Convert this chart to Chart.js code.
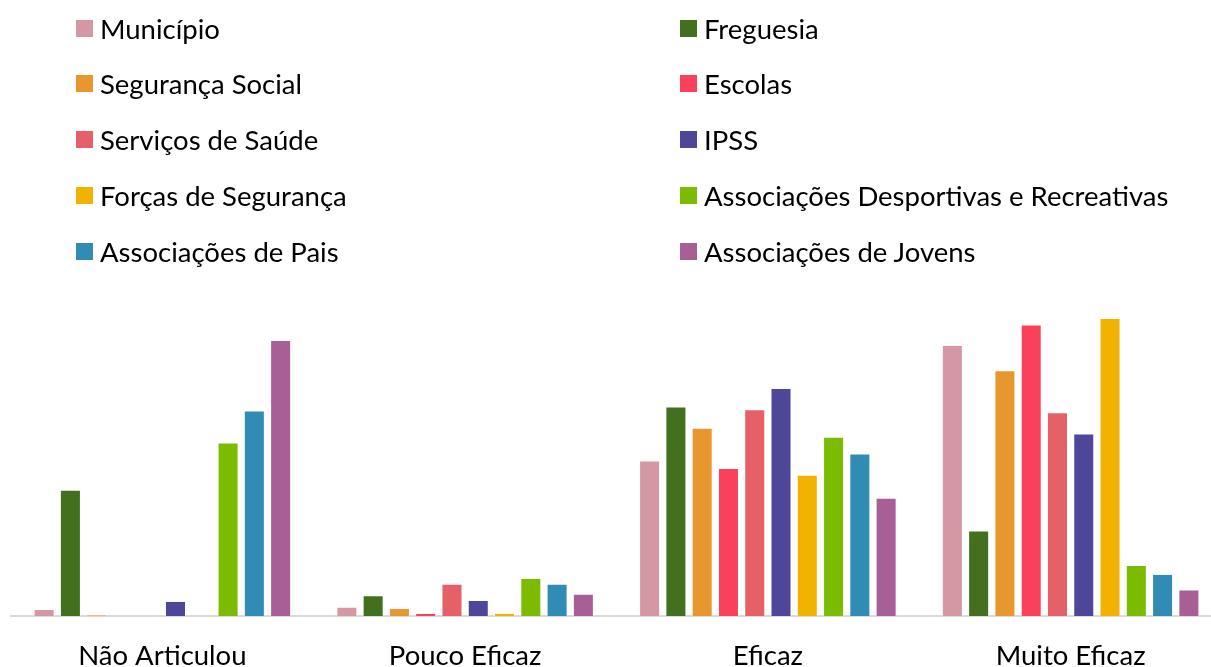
<!DOCTYPE html>
<html>
<head>
<meta charset="utf-8">
<script src="https://cdn.jsdelivr.net/npm/chart.js@4"></script>
<style>
    html, body { margin: 0; padding: 0; background: #fff; overflow: hidden; }
    #wrap { position: absolute; left: 0; top: 0; width: 1222px; height: 697px; }
    #legend { position: absolute; left: 0; top: 0; width: 1211px; height: 280px; font-family: Lato, sans-serif; font-size: 27.5px; color: #000; }
    .item { position: absolute; display: flex; align-items: center; height: 30px; white-space: nowrap; }
    .box { width: 17px; height: 17px; margin-right: 7px; }
</style>
</head>
<body>
<div id="wrap"><canvas id="chart" width="1222" height="697"></canvas></div>
<div id="legend"></div>
<script>
// Categories on the x axis
const categories = ['Não Articulou', 'Pouco Eficaz', 'Eficaz', 'Muito Eficaz'];

// Series names (legend order)
const seriesNames = [
    'Município', 'Freguesia', 'Segurança Social', 'Escolas', 'Serviços de Saúde',
    'IPSS', 'Forças de Segurança', 'Associações Desportivas e Recreativas',
    'Associações de Pais', 'Associações de Jovens'
];

// Values per series (%), one per category
const municipio = [1.6, 2.1, 35.1, 61.2];
const freguesia = [28.5, 4.7, 47.3, 19.3];
const segurancaSocial = [0.2, 1.8, 42.5, 55.5];
const escolas = [0, 0.7, 33.4, 65.8];
const servicosSaude = [0, 7.3, 46.7, 46.0];
const ipss = [3.4, 3.6, 51.5, 41.2];
const forcasSeguranca = [0, 0.7, 31.9, 67.3];
const assocDesportivas = [39.2, 8.6, 40.5, 11.5];
const assocPais = [46.4, 7.3, 36.7, 9.5];
const assocJovens = [62.3, 5.0, 26.7, 6.0];

const seriesValues = [municipio, freguesia, segurancaSocial, escolas, servicosSaude,
    ipss, forcasSeguranca, assocDesportivas, assocPais, assocJovens];

const colors = ['#d597a4', '#42701f', '#e8972f', '#f9415b', '#e66068',
    '#4e4699', '#f1b300', '#7bbb00', '#318cb5', '#a75f96'];

const datasets = seriesNames.map((name, i) => ({
    label: name,
    data: seriesValues[i],
    backgroundColor: colors[i],
    borderColor: 'rgba(255,255,255,0.5)',
    borderWidth: 1,
    categoryPercentage: 0.868,
    barPercentage: 0.8
}));

let ctx = document.getElementById('chart').getContext('2d');
new Chart(ctx, {
    type: 'bar',
    data: { labels: categories, datasets: datasets },
    options: {
        responsive: false,
        animation: false,
        layout: { padding: { left: 11, right: 0, top: 306, bottom: 0 } },
        plugins: { legend: { display: false }, tooltip: { enabled: false } },
        scales: {
            x: {
                grid: { display: false, drawTicks: false },
                border: { display: true, color: '#d9d9d9', width: 2 },
                ticks: { color: '#000', padding: 24, font: { family: 'Lato', size: 27.5 } }
            },
            y: { display: false, min: 0, max: 70 }
        }
    }
});

// Two-column legend, filled row by row
const legend = document.getElementById('legend');
seriesNames.forEach((name, i) => {
    const col = i % 2, row = Math.floor(i / 2);
    const el = document.createElement('div');
    el.className = 'item';
    el.style.left = (col === 0 ? 76 : 680) + 'px';
    el.style.top = (13 + row * 55.8) + 'px';
    el.innerHTML = '<div class="box" style="background:' + colors[i] + '"></div><span>' + name + '</span>';
    legend.appendChild(el);
});
</script>
</body>
</html>
